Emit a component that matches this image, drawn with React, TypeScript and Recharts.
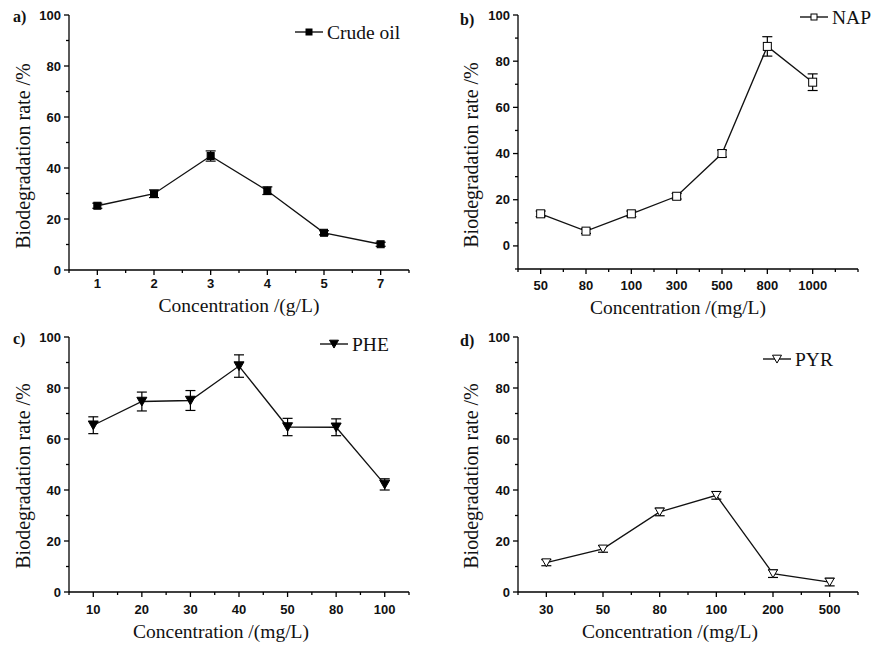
import { LineChart, Line, XAxis, YAxis, ErrorBar, Legend } from "recharts";

// a) crude oil, g/L
const crudeLabels = ["1", "2", "3", "4", "5", "7"];
const crudeRate = [25.2, 29.9, 44.7, 31.1, 14.6, 10.1];
const crudeErr = [1.0, 1.5, 2.0, 1.5, 0.8, 0.8];

// b) NAP, mg/L
const napLabels = ["50", "80", "100", "300", "500", "800", "1000"];
const napRate = [13.9, 6.4, 13.9, 21.5, 40.0, 86.4, 70.9];
const napErr = [1.2, 1.0, 1.2, 1.2, 1.5, 4.2, 3.6];

// c) PHE, mg/L
const pheLabels = ["10", "20", "30", "40", "50", "80", "100"];
const pheRate = [65.4, 74.7, 75.1, 88.6, 64.7, 64.6, 42.2];
const pheErr = [3.3, 3.7, 3.9, 4.4, 3.4, 3.3, 2.2];

// d) PYR, mg/L
const pyrLabels = ["30", "50", "80", "100", "200", "500"];
const pyrRate = [11.5, 16.9, 31.4, 37.9, 7.2, 3.9];
const pyrErr = [1.2, 1.3, 1.5, 1.5, 1.5, 1.5];

const yTicks = [0, 20, 40, 60, 80, 100];

const SERIF = "'Liberation Serif', 'Times New Roman', serif";
const SANS = "'Liberation Sans', Arial, sans-serif";
const INK = "#111";

const panels = [
  {
    tag: "a)", name: "Crude oil", xTitle: "Concentration /(g/L)",
    labels: crudeLabels, rate: crudeRate, err: crudeErr,
    shape: "square", filled: true, size: 7,
    left: 0, top: 0, w: 435, h: 320, yW: 69, mTop: 15, mRight: 26, xH: 50,
    yMin: 0, xMax: 6.5, tickGap: 3,
    tagPos: [13, 22], yTitlePos: [29.5, 156], xTitlePos: [239, 312], legendPos: [295, 20],
  },
  {
    tag: "b)", name: "NAP", xTitle: "Concentration /(mg/L)",
    labels: napLabels, rate: napRate, err: napErr,
    shape: "square", filled: false, size: 8,
    left: 435, top: 0, w: 436, h: 320, yW: 83, mTop: 15, mRight: 13, xH: 51,
    yMin: -10, xMax: 8, tickGap: 6,
    tagPos: [25, 25], yTitlePos: [43, 155], xTitlePos: [243, 314], legendPos: [365, 5],
  },
  {
    tag: "c)", name: "PHE", xTitle: "Concentration /(mg/L)",
    labels: pheLabels, rate: pheRate, err: pheErr,
    shape: "triangle", filled: true, size: 10,
    left: 0, top: 320, w: 435, h: 330, yW: 69, mTop: 17, mRight: 26, xH: 58,
    yMin: 0, xMax: 7.5, tickGap: 7,
    tagPos: [13, 24], yTitlePos: [29.5, 156], xTitlePos: [221, 317.5], legendPos: [320, 12],
  },
  {
    tag: "d)", name: "PYR", xTitle: "Concentration /(mg/L)",
    labels: pyrLabels, rate: pyrRate, err: pyrErr,
    shape: "triangle", filled: false, size: 9,
    left: 435, top: 320, w: 436, h: 330, yW: 83, mTop: 17, mRight: 13, xH: 58,
    yMin: 0, xMax: 6.5, tickGap: 7,
    tagPos: [25, 26], yTitlePos: [43, 156], xTitlePos: [235, 317.5], legendPos: [328, 27],
  },
];

function Marker({ cx, cy, shape, filled, size }: any) {
  if (cx == null || cy == null) return null;
  const fill = filled ? "#000" : "#fff";
  const h = size / 2;
  if (shape === "square") {
    return <rect x={cx - h} y={cy - h} width={size} height={size} fill={fill} stroke="#000" strokeWidth={1} />;
  }
  return (
    <polygon
      points={`${cx - h},${cy - h * 0.85} ${cx + h},${cy - h * 0.85} ${cx},${cy + h * 0.9}`}
      fill={fill}
      stroke="#000"
      strokeWidth={1}
    />
  );
}

const tickFont = { fontFamily: SANS, fontWeight: "bold" as const, fontSize: 13, fill: INK };

// x ticks: whole numbers are categories (long tick + label), the rest are minor
function XTick({ x, y, payload, labels, gap }: any) {
  const v = payload.value;
  const major = Number.isInteger(v) && v >= 1 && v <= labels.length;
  return (
    <g>
      <line x1={x} y1={y} x2={x} y2={y + (major ? 5 : 3)} stroke="#000" strokeWidth={1.3} />
      {major && (
        <text x={x} y={y + 5 + gap} textAnchor="middle" dominantBaseline="hanging" {...tickFont}>
          {labels[v - 1]}
        </text>
      )}
    </g>
  );
}

function YTick({ x, y, payload }: any) {
  const v = payload.value;
  const major = v % 20 === 0;
  return (
    <g>
      <line x1={x - (major ? 5 : 3)} y1={y} x2={x} y2={y} stroke="#000" strokeWidth={1.3} />
      {major && (
        <text x={x - 8} y={y} textAnchor="end" dominantBaseline="central" {...tickFont}>
          {v}
        </text>
      )}
    </g>
  );
}

function Panel({ p }: any) {
  const data = p.labels.map((c: string, k: number) => ({ i: k + 1, rate: p.rate[k], err: p.err[k] }));
  const xTicks: number[] = [];
  for (let v = 0.5; v <= p.xMax; v += 0.5) xTicks.push(v);
  if (xTicks[xTicks.length - 1] !== p.xMax) xTicks.push(p.xMax);
  const yAll: number[] = [];
  for (let v = p.yMin; v <= 100; v += 10) yAll.push(v);
  const line = { stroke: "#000", strokeWidth: 1.3 };

  const yTitle = () => (
    <g>
      <text x={p.tagPos[0]} y={p.tagPos[1]} fontFamily={SERIF} fontWeight="bold" fontSize={16} fill={INK}>
        {p.tag}
      </text>
      <text
        x={p.yTitlePos[0]}
        y={p.yTitlePos[1]}
        transform={`rotate(-90 ${p.yTitlePos[0]} ${p.yTitlePos[1]})`}
        textAnchor="middle"
        fontFamily={SERIF}
        fontSize={20}
        fill={INK}
      >
        Biodegradation rate /%
      </text>
    </g>
  );
  const xTitle = () => (
    <text x={p.xTitlePos[0]} y={p.xTitlePos[1]} textAnchor="middle" fontFamily={SERIF} fontSize={19.5} fill={INK}>
      {p.xTitle}
    </text>
  );
  const legend = () => (
    <svg width={120} height={24} style={{ display: "block" }}>
      <line x1={0} y1={12} x2={28} y2={12} stroke="#000" strokeWidth={1.3} />
      <Marker cx={14} cy={12} shape={p.shape} filled={p.filled} size={p.shape === "square" ? 6 : 9} />
      <text x={32} y={18.5} fontFamily={SERIF} fontSize={19.5} fill={INK}>
        {p.name}
      </text>
    </svg>
  );

  return (
    <div style={{ position: "absolute", left: p.left, top: p.top }}>
      <LineChart width={p.w} height={p.h} data={data} margin={{ top: p.mTop, right: p.mRight, bottom: 0, left: 0 }}>
        <XAxis
          type="number"
          dataKey="i"
          domain={[0.5, p.xMax]}
          ticks={xTicks}
          interval={0}
          height={p.xH}
          tickSize={0}
          tickMargin={0}
          tick={<XTick labels={p.labels} gap={p.tickGap} />}
          axisLine={line}
          tickLine={false}
          allowDataOverflow
          label={xTitle}
        />
        <YAxis
          type="number"
          domain={[p.yMin, 100]}
          ticks={yAll}
          interval={0}
          width={p.yW}
          tickSize={0}
          tickMargin={0}
          tick={<YTick />}
          axisLine={line}
          tickLine={false}
          allowDataOverflow
          label={yTitle}
        />
        <Legend
          layout="horizontal"
          verticalAlign="middle"
          align="center"
          content={legend}
          wrapperStyle={{ left: p.legendPos[0], top: p.legendPos[1], width: 120, height: 24 }}
        />
        <Line
          dataKey="rate"
          name={p.name}
          stroke="#111"
          strokeWidth={1.3}
          isAnimationActive={false}
          activeDot={false}
          dot={(d: any) => (
            <Marker key={d.index} cx={d.cx} cy={d.cy} shape={p.shape} filled={p.filled} size={p.size} />
          )}
        >
          <ErrorBar dataKey="err" direction="y" width={5} stroke="#000" strokeWidth={1.2} />
        </Line>
      </LineChart>
    </div>
  );
}

export default function App() {
  return (
    <div style={{ position: "absolute", left: 0, top: 0, width: 871, height: 650, background: "#fff" }}>
      {panels.map((p) => (
        <Panel key={p.tag} p={p} />
      ))}
    </div>
  );
}
